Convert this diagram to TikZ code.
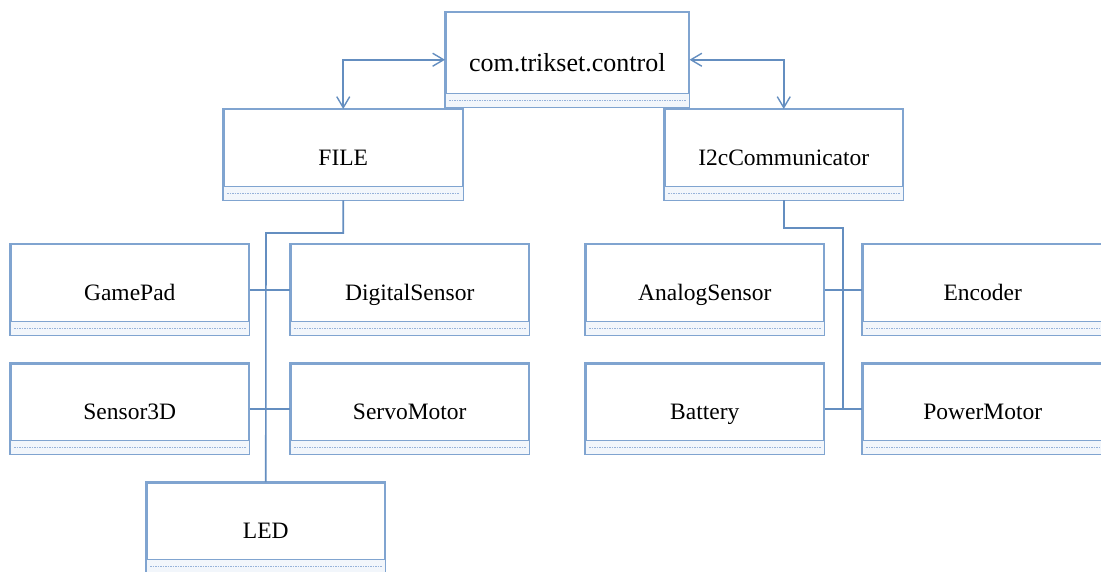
\documentclass[tikz,border=0pt]{standalone}
\usepackage{fontspec}
\setmainfont{Liberation Serif}
\newfontfamily\umlfont{Liberation Serif}
\usetikzlibrary{arrows.meta,calc}
\definecolor{boxblue}{RGB}{128,164,208}
\definecolor{linkblue}{RGB}{100,142,192}
\definecolor{dashblue}{RGB}{150,178,218}
\definecolor{bandfill}{RGB}{242,246,251}
\tikzset{
  cls/.style={draw=boxblue, line width=1.5pt, fill=white,
    minimum width=238pt, minimum height=90pt, inner sep=0pt,
    text height=21.6pt, text depth=0pt,
    font=\umlfont\fontsize{23.5pt}{28pt}\selectfont, anchor=north west},
  link/.style={draw=linkblue, line width=1.6pt},
  barb/.tip={Straight Barb[length=11pt,width=13pt,line width=1.4pt]},
  assoc/.style={link, barb-barb},
}
\begin{document}
\begin{tikzpicture}[x=1pt,y=-1pt]
\useasboundingbox (0,0) rectangle (1101,572);

% packages and classes
\node[cls, minimum width=243pt, minimum height=94pt, text height=23.2pt,
      font=\umlfont\fontsize{26pt}{30pt}\selectfont] (top) at (445,12) {com.trikset.control};
\node[cls, minimum width=239pt] (file) at (223,109) {FILE};
\node[cls] (i2c) at (664,109) {I2cCommunicator};

\node[cls] (gamepad) at (10,244) {GamePad};
\node[cls] (digital) at (290,244) {DigitalSensor};
\node[cls] (sensor3d) at (10,363) {Sensor3D};
\node[cls] (servo) at (290,363) {ServoMotor};
\node[cls] (led) at (146,482) {LED};

\node[cls] (analog) at (585,244) {AnalogSensor};
\node[cls, minimum width=240pt] (encoder) at (862,244) {Encoder};
\node[cls] (battery) at (585,363) {Battery};
\node[cls, minimum width=240pt] (power) at (862,363) {PowerMotor};

% empty attribute compartment of each class, then the outline again on top
\foreach \n in {top,file,i2c,gamepad,digital,sensor3d,servo,led,analog,encoder,battery,power} {
  \fill[bandfill] (\n.south west) rectangle ([yshift=14pt]\n.south east);
  \draw[dashblue, line width=1.2pt, dash pattern=on 1.5pt off 1pt]
    ([xshift=4pt,yshift=7pt]\n.south west) -- ([xshift=-4pt,yshift=7pt]\n.south east);
  \draw[boxblue, line width=1.5pt]
    ([yshift=14pt]\n.south west) -- ([yshift=14pt]\n.south east);
  \draw[boxblue, line width=1.5pt] (\n.south west) rectangle (\n.north east);
}

% associations with the package
\draw[assoc] (file.north) |- (top.west);
\draw[assoc] (i2c.north) |- (top.east);

% FILE tree
\coordinate (jl) at (266,233);
\draw[link] (file.south) |- (jl) -- (led.north);
\draw[link] (gamepad.east) -- (digital.west);
\draw[link] (sensor3d.east) -- (servo.west);

% I2cCommunicator tree
\coordinate (jr) at (843,228);
\coordinate (jr2) at (843,408);
\draw[link] (i2c.south) |- (jr) -- (jr2);
\draw[link] (analog.east) -- (encoder.west);
\draw[link] (battery.east) -- (power.west);
\end{tikzpicture}
\end{document}
